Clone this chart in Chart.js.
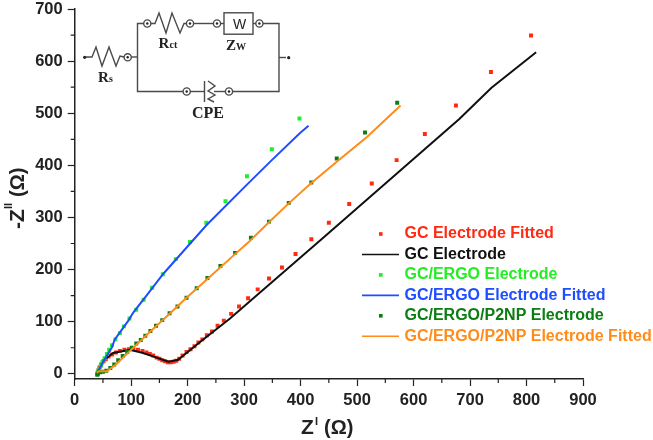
<!DOCTYPE html>
<html>
<head>
<meta charset="utf-8">
<title>Nyquist plot</title>
<script src="https://cdn.jsdelivr.net/npm/chart.js@4"></script>
<style>
    html, body { margin: 0; padding: 0; background: #fff; }
    canvas { display: block; }
</style>
</head>
<body>
<canvas id="myChart" width="653" height="440"></canvas>
<script>
// Axis ticks
const xTicks = [0, 100, 200, 300, 400, 500, 600, 700, 800, 900];
const xMinorTicks = [50, 150, 250, 350, 450, 550, 650, 750, 850];
const yTicks = [0, 100, 200, 300, 400, 500, 600, 700];
const yMinorTicks = [50, 150, 250, 350, 450, 550, 650];

// GC electrode, fitted points
const gcFittedX = [41, 42, 44, 47, 51, 55, 60, 66, 73, 80, 88, 96, 104, 112, 120, 127, 133, 139, 145, 150, 155, 160, 165, 170, 175, 180, 185, 191, 198, 205, 212, 219, 226, 234, 243, 253, 264, 277, 291, 307, 324, 344, 367, 391, 419, 450, 486, 526, 570, 620, 675, 737, 808];
const gcFittedY = [3, 7, 12, 18, 24, 28, 33, 37, 41, 44, 46, 47, 47, 46, 44, 41, 38, 35, 31, 29, 26, 24, 22, 22, 23, 25, 29, 35, 42, 47, 53, 60, 66, 74, 81, 92, 102, 115, 129, 145, 162, 183, 204, 230, 258, 290, 326, 365, 410, 460, 515, 579, 649];

// GC electrode line
const gcLineX = [39, 42, 50, 68, 98, 121, 145, 166, 183, 198, 222, 275, 437, 681, 738, 817];
const gcLineY = [1, 8, 25, 40, 46, 40, 31, 23, 27, 40, 61, 106, 258, 489, 549, 617];

// GC/ERGO points
const ergoX = [40, 41, 43, 46, 49, 53, 57, 61, 66, 72, 80, 87, 97, 109, 122, 137, 156, 179, 204, 233, 267, 305, 349, 398];
const ergoY = [0, 4, 9, 15, 22, 30, 38, 46, 55, 66, 78, 91, 106, 123, 142, 165, 191, 220, 253, 290, 331, 379, 431, 490];

// GC/ERGO fitted line
const ergoLineX = [39, 45, 51, 66, 71, 95, 104, 125, 157, 206, 234, 305, 349, 399, 414];
const ergoLineY = [1, 12, 24, 51, 66, 102, 118, 147, 192, 252, 286, 363, 410, 462, 476];

// GC/ERGO/P2NP points
const p2npX = [40, 41, 45, 50, 56, 63, 70, 77, 85, 93, 101, 109, 117, 125, 134, 144, 155, 168, 182, 198, 216, 235, 258, 284, 312, 344, 379, 419, 464, 514, 571];
const p2npY = [-2, 0, 3, 4, 6, 11, 18, 26, 34, 42, 50, 58, 65, 73, 82, 92, 103, 116, 129, 146, 164, 184, 207, 232, 261, 292, 328, 367, 413, 463, 520];

// GC/ERGO/P2NP fitted line
const p2npLineX = [39, 43, 57, 71, 98, 133, 169, 198, 234, 275, 310, 343, 379, 418, 464, 518, 577];
const p2npLineY = [2, 5, 5, 16, 44, 80, 116, 146, 181, 221, 255, 290, 327, 365, 407, 455, 515];

const legendLabels = [
    'GC Electrode Fitted',
    'GC Electrode',
    'GC/ERGO Electrode',
    'GC/ERGO Electrode Fitted',
    'GC/ERGO/P2NP Electrode',
    'GC/ERGO/P2NP Electrode Fitted'
];
const seriesColors = ['#ff2a12', '#111111', '#18f02a', '#1f4dff', '#0b7d12', '#ff8c1a'];
const legendTextColors = ['#ff2a12', '#111111', '#22ee22', '#1f4dff', '#0b7d12', '#ff8c1a'];
const seriesIsLine = [false, true, false, true, false, true];

function toPoints(xs, ys) {
    return xs.map((x, i) => ({ x: x, y: ys[i] }));
}

const seriesPoints = [
    toPoints(gcFittedX, gcFittedY),
    toPoints(gcLineX, gcLineY),
    toPoints(ergoX, ergoY),
    toPoints(ergoLineX, ergoLineY),
    toPoints(p2npX, p2npY),
    toPoints(p2npLineX, p2npLineY)
];

const datasets = seriesPoints.map((points, i) => ({
    label: legendLabels[i],
    data: points,
    showLine: seriesIsLine[i],
    borderColor: seriesColors[i],
    backgroundColor: seriesColors[i],
    borderWidth: seriesIsLine[i] ? 2 : 0,
    pointRadius: seriesIsLine[i] ? 0 : 2.8,
    pointStyle: 'rect',
    tension: 0,
    order: 5 - i // later series sit on top
}));

const INK = '#222222';

// Shorter ticks halfway between the labelled ones
const minorTicks = {
    id: 'minorTicks',
    afterDatasetsDraw(chart) {
        const { ctx, scales, chartArea } = chart;
        ctx.save();
        ctx.strokeStyle = INK;
        ctx.lineWidth = 1.2;
        ctx.beginPath();
        xMinorTicks.forEach((v) => {
            const px = scales.x.getPixelForValue(v);
            ctx.moveTo(px, chartArea.bottom);
            ctx.lineTo(px, chartArea.bottom + 4);
        });
        yMinorTicks.forEach((v) => {
            const py = scales.y.getPixelForValue(v);
            ctx.moveTo(chartArea.left, py);
            ctx.lineTo(chartArea.left - 4, py);
        });
        ctx.stroke();
        ctx.restore();
    }
};

// Axis titles need superscripts, so they are set piece by piece
const axisTitles = {
    id: 'axisTitles',
    afterDraw(chart) {
        const { ctx } = chart;
        ctx.save();
        ctx.fillStyle = INK;
        ctx.textBaseline = 'alphabetic';
        ctx.textAlign = 'left';

        ctx.save();
        ctx.translate(301, 434);
        ctx.font = 'bold 21px "Liberation Sans"';
        ctx.fillText('Z', 0, 0);
        ctx.font = 'bold 11px "Liberation Sans"';
        ctx.fillText('I', 14, -9);
        ctx.font = 'bold 20px "Liberation Sans"';
        ctx.fillText('(Ω)', 23, 0);
        ctx.restore();

        ctx.save();
        ctx.translate(24, 229);
        ctx.rotate(-Math.PI / 2);
        ctx.font = 'bold 21px "Liberation Sans"';
        ctx.fillText('-Z', 0, 0);
        ctx.font = 'bold 11px "Liberation Sans"';
        ctx.fillText('II', 20, -12);
        ctx.font = 'bold 20px "Liberation Sans"';
        ctx.fillText('(Ω)', 32, 0);
        ctx.restore();

        ctx.restore();
    }
};

// Key on the right, markers for the point series and dashes for the lines
const sideLegend = {
    id: 'sideLegend',
    afterDraw(chart) {
        const { ctx } = chart;
        ctx.save();
        ctx.font = 'bold 16px "Liberation Sans"';
        ctx.textBaseline = 'middle';
        ctx.textAlign = 'left';
        legendLabels.forEach((label, i) => {
            const y = 234 + i * 20.45;
            ctx.fillStyle = seriesColors[i];
            ctx.strokeStyle = seriesColors[i];
            if (seriesIsLine[i]) {
                ctx.lineWidth = 1.6;
                ctx.beginPath();
                ctx.moveTo(362, y);
                ctx.lineTo(399, y);
                ctx.stroke();
            } else {
                ctx.fillRect(379, y - 1.8, 3.6, 3.6);
            }
            ctx.fillStyle = legendTextColors[i];
            ctx.fillText(label, 404.5, y);
        });
        ctx.restore();
    }
};

// Equivalent circuit in the upper left corner
function polyline(ctx, pts) {
    ctx.beginPath();
    pts.forEach((p, i) => (i ? ctx.lineTo(p[0], p[1]) : ctx.moveTo(p[0], p[1])));
    ctx.stroke();
}

function terminal(ctx, x, y) {
    ctx.beginPath();
    ctx.arc(x, y, 3.6, 0, Math.PI * 2);
    ctx.fillStyle = '#fff';
    ctx.fill();
    ctx.stroke();
    ctx.beginPath();
    ctx.arc(x, y, 1.2, 0, Math.PI * 2);
    ctx.fillStyle = INK;
    ctx.fill();
}

function dot(ctx, x, y) {
    ctx.beginPath();
    ctx.arc(x, y, 1.6, 0, Math.PI * 2);
    ctx.fillStyle = INK;
    ctx.fill();
}

const circuit = {
    id: 'circuit',
    afterDraw(chart) {
        const { ctx } = chart;
        ctx.save();
        ctx.strokeStyle = '#4a4a4a';
        ctx.lineWidth = 1.4;

        // wiring
        polyline(ctx, [[86, 57], [92, 57], [96, 47], [102, 66], [109, 47], [116, 66], [120, 56], [124, 57]]);
        polyline(ctx, [[131, 57], [137.5, 57]]);
        polyline(ctx, [[147, 23.5], [137.5, 23.5], [137.5, 91.5], [183, 91.5]]);
        polyline(ctx, [[151, 23.5], [155, 23.5], [159, 13], [166, 33], [172, 13], [180, 33], [184, 23.5], [186, 23.5]]);
        polyline(ctx, [[193.5, 23.5], [213.5, 23.5]]);
        polyline(ctx, [[220.5, 23.5], [224, 23.5]]);
        polyline(ctx, [[253, 23.5], [256, 23.5]]);
        polyline(ctx, [[263, 23.5], [279, 23.5], [279, 91.5], [233, 91.5]]);
        polyline(ctx, [[279, 57.5], [286, 57.5]]);
        polyline(ctx, [[190, 91.5], [204, 91.5]]);
        polyline(ctx, [[225.5, 91.5], [214, 91.5]]);

        // constant phase element
        polyline(ctx, [[204.5, 81], [204.5, 102]]);
        polyline(ctx, [[208, 81], [215, 86], [208, 91], [215, 95], [208, 99], [214, 102]]);

        // Warburg box
        ctx.strokeRect(224, 12.8, 29, 21.4);

        terminal(ctx, 127.7, 57.3);
        terminal(ctx, 147.3, 23.5);
        terminal(ctx, 190, 23.5);
        terminal(ctx, 217, 23.5);
        terminal(ctx, 259.4, 23.5);
        terminal(ctx, 186.7, 91.5);
        terminal(ctx, 229, 91.5);
        dot(ctx, 84.7, 57.3);
        dot(ctx, 288.7, 57.7);

        ctx.fillStyle = INK;
        ctx.textBaseline = 'alphabetic';
        ctx.textAlign = 'left';
        ctx.font = '14px "Liberation Sans"';
        ctx.fillText('W', 233, 29);
        ctx.font = 'bold 15px "Liberation Serif"';
        ctx.fillText('R', 98, 82);
        ctx.fillText('R', 158.5, 48);
        ctx.fillText('Z', 226, 50);
        ctx.font = 'bold 16px "Liberation Serif"';
        ctx.fillText('CPE', 192, 118);
        ctx.font = 'bold 10px "Liberation Serif"';
        ctx.fillText('s', 109, 82);
        ctx.fillText('ct', 169.5, 48);
        ctx.fillText('W', 236, 50);
        ctx.restore();
    }
};

function tickLabel(value) {
    return String(value);
}

new Chart(document.getElementById('myChart').getContext('2d'), {
    type: 'scatter',
    data: { datasets: datasets },
    plugins: [minorTicks, axisTitles, sideLegend, circuit],
    options: {
        responsive: false,
        animation: false,
        layout: { padding: { top: 9, right: 70, left: 0, bottom: 0 } },
        plugins: {
            legend: { display: false },
            title: { display: false },
            tooltip: { enabled: false }
        },
        scales: {
            x: {
                type: 'linear',
                min: 0,
                max: 900,
                afterBuildTicks(scale) {
                    scale.ticks = xTicks.map((v) => ({ value: v }));
                },
                afterFit(scale) {
                    scale.height = 61;
                    scale.paddingLeft = 0;
                    scale.paddingRight = 0;
                },
                border: { color: INK, width: 1.5 },
                grid: { drawOnChartArea: false, tickLength: 7, tickColor: INK, tickWidth: 1.2 },
                ticks: {
                    autoSkip: false,
                    maxRotation: 0,
                    padding: 5,
                    color: INK,
                    font: { family: '"Liberation Sans"', size: 16.5, weight: 'bold' },
                    callback: tickLabel
                }
            },
            y: {
                type: 'linear',
                min: -10,
                max: 700,
                afterBuildTicks(scale) {
                    scale.ticks = yTicks.map((v) => ({ value: v }));
                },
                afterFit(scale) {
                    scale.width = 74.7;
                    scale.paddingTop = 0;
                    scale.paddingBottom = 0;
                },
                border: { color: INK, width: 1.5 },
                grid: { drawOnChartArea: false, tickLength: 7, tickColor: INK, tickWidth: 1.2 },
                ticks: {
                    autoSkip: false,
                    padding: 5,
                    color: INK,
                    font: { family: '"Liberation Sans"', size: 16.5, weight: 'bold' },
                    callback: tickLabel
                }
            }
        }
    }
});
</script>
</body>
</html>
